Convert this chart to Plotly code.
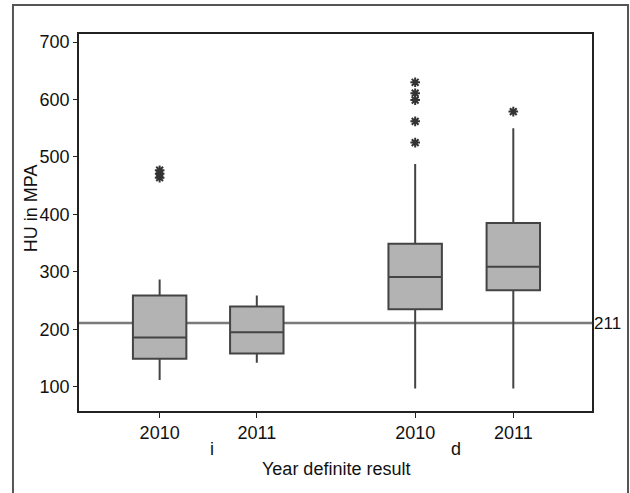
import plotly.graph_objects as go

# ---- data ----
groups = ["i", "i", "d", "d"]
years = ["2010", "2011", "2010", "2011"]
positions = [1.0, 2.0, 3.63, 4.64]
q1 = [149, 158, 235, 268]
median = [186, 195, 291, 309]
q3 = [259, 240, 349, 385]
lower_whisker = [112, 142, 97, 97]
upper_whisker = [287, 259, 488, 550]
outliers = [
    [464, 471, 477],
    [],
    [525, 562, 599, 611, 630],
    [579],
]
reference_value = 211
group_labels = ["i", "d"]
group_label_pos = [1.54, 4.05]

FONT = "Liberation Sans, Arial, Helvetica, sans-serif"
fig = go.Figure()

for k in range(len(positions)):
    fig.add_trace(go.Box(
        x=[positions[k]],
        q1=[q1[k]], median=[median[k]], q3=[q3[k]],
        lowerfence=[lower_whisker[k]], upperfence=[upper_whisker[k]],
        width=0.55,
        fillcolor="#b3b3b3",
        line=dict(color="#444444", width=2),
        whiskerwidth=0,
        boxpoints=False,
        showlegend=False,
        hoverinfo="skip",
    ))
    if outliers[k]:
        fig.add_trace(go.Scatter(
            x=[positions[k]] * len(outliers[k]), y=outliers[k],
            mode="markers",
            marker=dict(symbol="asterisk-open", size=8, color="#333333",
                        line=dict(color="#333333", width=2)),
            showlegend=False, hoverinfo="skip",
        ))

# reference line
fig.add_shape(type="line", xref="paper", x0=0, x1=1, yref="y",
              y0=reference_value, y1=reference_value,
              line=dict(color="#7a7a7a", width=2.5), layer="below")
fig.add_annotation(xref="paper", x=1, y=reference_value, yref="y",
                   text=str(reference_value), showarrow=False,
                   xanchor="left", xshift=0,
                   font=dict(family=FONT, size=17, color="#111"))

# outer frame
fig.add_shape(type="rect", xref="paper", yref="paper",
              x0=-0.1287, x1=1.0702, y0=-0.3, y1=1.0769,
              line=dict(color="#555555", width=2), layer="below")

# group labels
for lbl, px in zip(group_labels, group_label_pos):
    fig.add_annotation(x=px, xref="x", y=-0.101, yref="paper",
                       text=lbl, showarrow=False, yanchor="middle",
                       font=dict(family=FONT, size=18, color="#111"))

fig.add_annotation(x=0.5, xref="paper", y=-0.154, yref="paper",
                   text="Year definite result", showarrow=False,
                   yanchor="middle",
                   font=dict(family=FONT, size=18, color="#111"))
fig.add_annotation(x=-0.0936, xref="paper", y=0.538, yref="paper",
                   text="HU in MPA", showarrow=False, textangle=-90,
                   xanchor="center", yanchor="middle",
                   font=dict(family=FONT, size=18, color="#111"))

fig.update_layout(
    width=630, height=493,
    margin=dict(l=79, r=38, t=34, b=82),
    paper_bgcolor="white", plot_bgcolor="white",
    font=dict(family=FONT, size=18, color="#111"),
    xaxis=dict(range=[0.17, 5.45], tickvals=positions, ticktext=years,
               showgrid=False, zeroline=False, showline=True, mirror=True,
               linecolor="#222", linewidth=1.5, ticks="outside", ticklen=5,
               tickcolor="#222", tickfont=dict(size=18)),
    yaxis=dict(range=[58, 714], tickvals=[100, 200, 300, 400, 500, 600, 700],
               showgrid=False, zeroline=False, showline=True, mirror=True,
               linecolor="#222", linewidth=1.5, ticks="outside", ticklen=4,
               tickcolor="#222", tickfont=dict(size=18)),
)

fig.write_html("out.html")
